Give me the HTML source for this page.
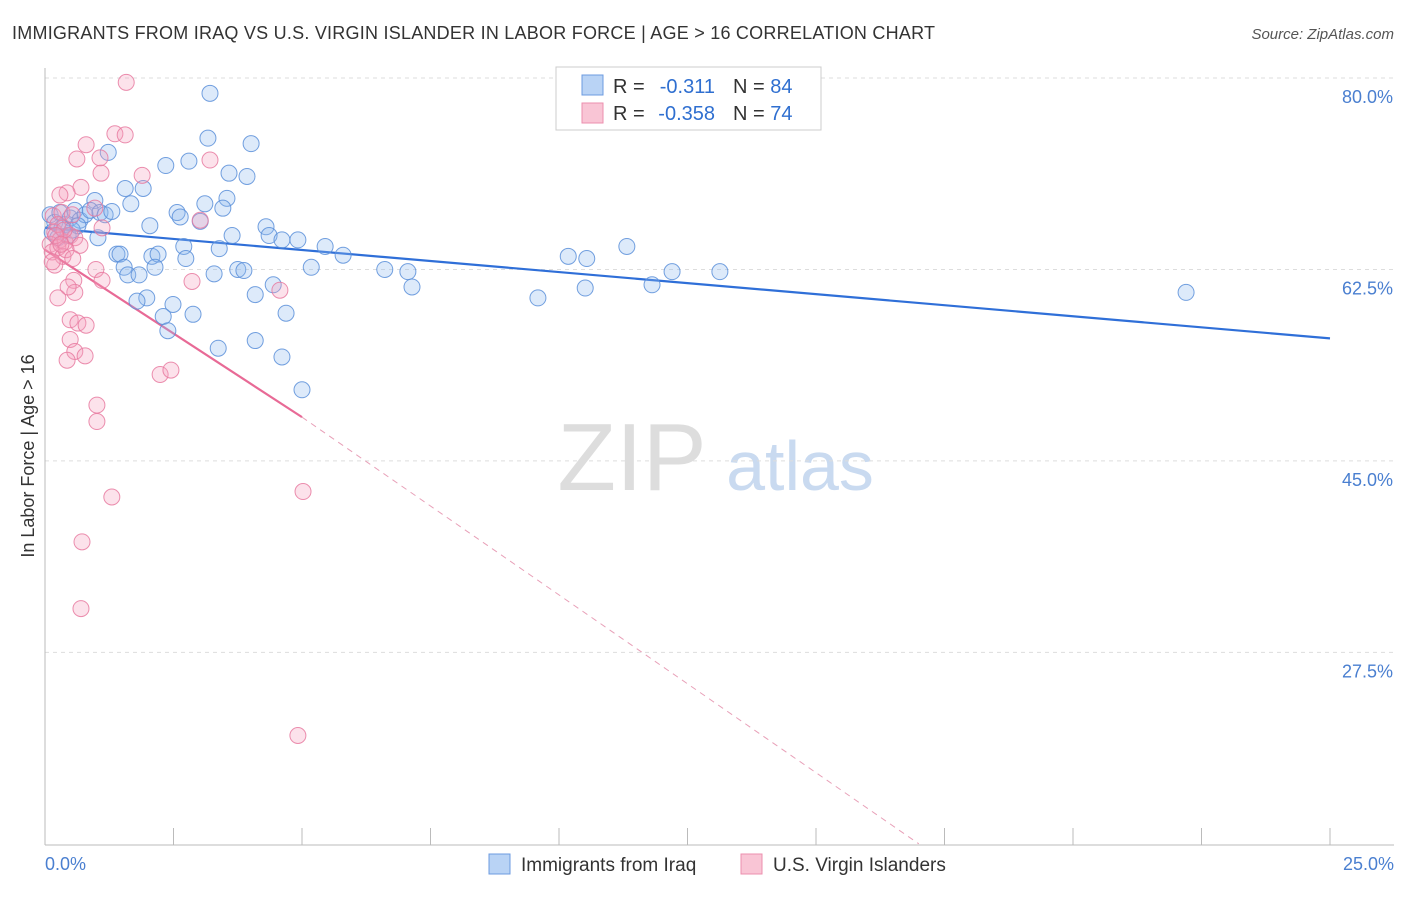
<!DOCTYPE html>
<html><head><meta charset="utf-8"><style>
body{margin:0;background:#fff;font-family:"Liberation Sans",sans-serif;}
svg text{font-family:"Liberation Sans",sans-serif;}
</style></head><body>
<svg id="chart" width="1406" height="892">
<text x="12" y="39" font-size="18" fill="#333" textLength="923">IMMIGRANTS FROM IRAQ VS U.S. VIRGIN ISLANDER IN LABOR FORCE | AGE &gt; 16 CORRELATION CHART</text>
<text x="1394" y="39" font-size="15" fill="#555" font-style="italic" text-anchor="end">Source: ZipAtlas.com</text>
<text x="632" y="490" font-size="96" fill="#ddd" font-family="Liberation Serif" text-anchor="middle">ZIP</text>
<text x="800" y="490" font-size="70" fill="#c9daf0" text-anchor="middle">atlas</text>
<g id="grid"></g><g id="axes"></g><g id="lines"></g><g id="pts"></g>
<text transform="translate(34,456) rotate(-90)" font-size="18" fill="#333" text-anchor="middle">In Labor Force | Age &gt; 16</text>
<text x="45" y="870" font-size="18" fill="#4a7fd0">0.0%</text>
<text x="1394" y="870" font-size="18" fill="#4a7fd0" text-anchor="end">25.0%</text>
<g>
<rect x="556" y="67" width="265" height="63" fill="#fff" stroke="#ccc"/>
<rect x="582" y="75" width="21" height="20" fill="#b9d3f5" stroke="#6c9be0"/>
<rect x="582" y="103" width="21" height="20" fill="#f9c5d5" stroke="#ec8fae"/>
<text x="613" y="93" font-size="20" fill="#333">R =</text>
<text x="715" y="93" font-size="20" fill="#2f6fd0" text-anchor="end">-0.311</text>
<text x="733" y="93" font-size="20" fill="#333">N = <tspan fill="#2f6fd0">84</tspan></text>
<text x="613" y="120" font-size="20" fill="#333">R =</text>
<text x="715" y="120" font-size="20" fill="#2f6fd0" text-anchor="end">-0.358</text>
<text x="733" y="120" font-size="20" fill="#333">N = <tspan fill="#2f6fd0">74</tspan></text>
</g>
<g>
<rect x="489" y="854" width="21" height="20" fill="#b9d3f5" stroke="#6c9be0"/>
<text x="521" y="871" font-size="19" fill="#333">Immigrants from Iraq</text>
<rect x="741" y="854" width="21" height="20" fill="#f9c5d5" stroke="#ec8fae"/>
<text x="773" y="871" font-size="19" fill="#333">U.S. Virgin Islanders</text>
</g>
</svg>
<script>
const yTicks=[80,62.5,45,27.5];
const xTicks=[0,2.5,5,7.5,10,12.5,15,17.5,20,22.5,25];
const blueX=[3.21,3.17,4.01,1.23,2.35,2.80,3.58,3.93,1.56,1.91,0.97,1.67,3.54,3.11,3.46,2.57,2.63,3.02,2.04,4.30,4.36,4.61,4.92,3.64,5.45,5.80,2.70,3.39,1.03,1.40,1.46,2.08,2.20,2.74,2.14,1.54,1.61,1.83,5.18,3.75,3.87,3.29,6.61,7.06,7.14,4.44,4.09,1.98,1.79,2.49,2.88,2.30,4.69,2.39,3.37,4.09,4.61,5.00,10.18,10.54,11.32,12.20,13.13,11.81,10.51,9.59,22.20,0.10,0.19,0.29,0.39,0.49,0.58,0.68,0.78,0.88,1.07,1.17,1.30,0.14,0.25,0.33,0.45,0.53,0.64];
const blueY=[78.6,74.5,74.0,73.2,72.0,72.4,71.3,71.0,69.9,69.9,68.8,68.5,69.0,68.5,68.1,67.7,67.3,66.9,66.5,66.4,65.6,65.2,65.2,65.6,64.6,63.8,64.6,64.4,65.4,63.9,63.9,63.7,63.9,63.5,62.7,62.7,62.0,62.0,62.7,62.5,62.4,62.1,62.5,62.3,60.9,61.1,60.2,59.9,59.6,59.3,58.4,58.2,58.5,56.9,55.3,56.0,54.5,51.5,63.7,63.5,64.6,62.3,62.3,61.1,60.8,59.9,60.4,67.5,66.8,67.7,66.6,67.2,67.9,67.0,67.5,67.9,67.7,67.5,67.8,65.9,65.4,66.3,65.6,66.1,66.5];
const pinkX=[1.58,1.36,1.56,0.80,0.62,1.07,3.21,1.09,1.89,0.70,0.43,0.29,0.97,0.16,0.33,0.53,3.02,1.11,0.19,0.29,0.39,0.49,0.10,0.25,0.58,0.68,0.14,0.35,0.19,0.14,0.99,0.56,1.11,2.86,4.57,0.58,0.45,0.25,0.49,0.64,0.80,0.49,0.58,0.78,0.43,2.24,2.45,1.01,1.01,1.30,5.02,0.72,0.70,4.92,0.25,0.37,0.41,0.54,0.21,0.31];
const pinkY=[79.6,74.9,74.8,73.9,72.6,72.7,72.5,71.3,71.1,70.0,69.5,69.3,68.1,67.4,67.7,67.5,67.0,66.3,65.9,65.2,65.0,65.6,64.8,64.5,65.4,64.7,64.1,63.7,62.9,63.2,62.5,61.5,61.5,61.4,60.6,60.4,60.9,59.9,57.9,57.6,57.4,56.1,55.0,54.6,54.2,52.9,53.3,50.1,48.6,41.7,42.2,37.6,31.5,19.9,66.6,66.1,64.3,63.5,65.6,64.8];
const blueTrend=[66.3,56.2];
const pinkTrend=[64.3,49.0];
const pinkSolidEnd=5.0;
const pinkDashEnd=[17.0,10.0];

const NS='http://www.w3.org/2000/svg';
const X=v=>45+v*51.4, Y=v=>78+(80-v)*10.94;
function mk(tag,attrs,parent){const e=document.createElementNS(NS,tag);for(const k in attrs)e.setAttribute(k,attrs[k]);document.getElementById(parent).appendChild(e);return e;}
yTicks.forEach(t=>{
 const l=mk('line',{x1:45,x2:1394,y1:Y(t),y2:Y(t),stroke:'#ddd','stroke-dasharray':'4,4'},'grid');
 
 
 const tx=mk('text',{x:1393,y:Y(t)+25,'font-size':18,fill:'#4a7fd0','text-anchor':'end'},'grid');
 tx.textContent=t.toFixed(1)+'%';
 
 
});
let a=mk('line',{x1:45,x2:45,y1:68,y2:845,stroke:'#bbb'},'axes');


a=mk('line',{x1:45,x2:1394,y1:845,y2:845,stroke:'#bbb'},'axes');


xTicks.forEach(t=>{
 const l=mk('line',{x1:X(t),x2:X(t),y1:828,y2:845,stroke:'#bbb'},'axes');
 
 
});
function pts(xs,ys,fill,stroke,name){
 xs.forEach((x,i)=>{
  const c=mk('circle',{cx:X(x),cy:Y(ys[i]),r:8,fill:fill,'fill-opacity':0.3,stroke:stroke,'stroke-width':1,'stroke-opacity':0.85},'pts');
  
  
 });
}
pts(blueX,blueY,'#8fb8ee','#5b8fd9','iraq-point');
pts(pinkX,pinkY,'#f5a0bd','#e87aa0','virgin-islander-point');
let t=mk('line',{x1:X(0),y1:Y(blueTrend[0]),x2:X(25),y2:Y(blueTrend[1]),stroke:'#2f6fd8','stroke-width':2.2},'lines');


t=mk('line',{x1:X(0),y1:Y(pinkTrend[0]),x2:X(pinkSolidEnd),y2:Y(pinkTrend[1]),stroke:'#e86a96','stroke-width':2.2},'lines');


t=mk('line',{x1:X(pinkSolidEnd),y1:Y(pinkTrend[1]),x2:X(pinkDashEnd[0]),y2:Y(pinkDashEnd[1]),stroke:'#e8a0b8','stroke-width':1,'stroke-dasharray':'6,5'},'lines');


</script>
</body></html>
